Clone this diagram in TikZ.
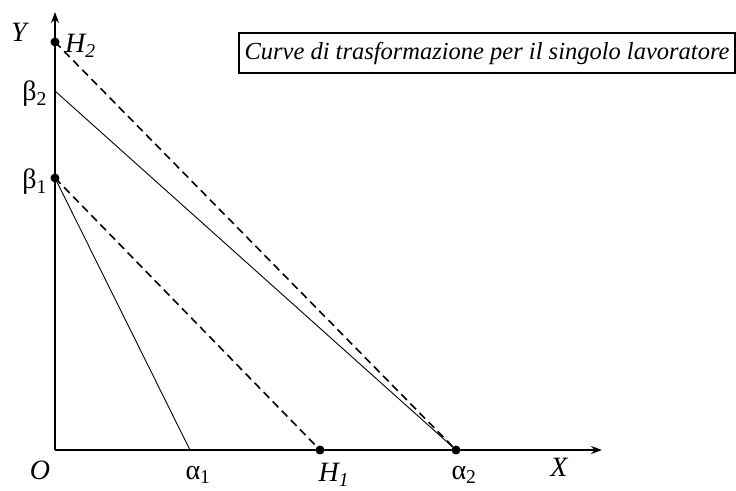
\documentclass[tikz,border=0pt]{standalone}
\usepackage{fontspec}
\setmainfont{Liberation Serif}
\usetikzlibrary{arrows.meta}
\begin{document}
\begin{tikzpicture}[x=1pt, y=-1pt, >={Stealth[length=11pt,width=8pt]},
    lab/.style={font=\fontsize{28}{32}\selectfont, inner sep=0pt},
    ilab/.style={lab, font=\fontsize{28}{32}\selectfont\itshape},
    axis/.style={line width=1.7pt},
    dot/.style={circle, fill=black, inner sep=0pt, minimum size=9pt},
    curve/.style={line width=0.9pt},
    hline/.style={line width=1.6pt, dash pattern=on 8pt off 5pt}]
  \useasboundingbox (0,0) rectangle (736,490);
  % axes
  \coordinate (O) at (55,450);
  \coordinate (Ytip) at (55,12);
  \coordinate (Xtip) at (602,450);
  \draw[axis,->] (O) -- (Ytip);
  \draw[axis,->] (O) -- (Xtip);
  % points on the axes
  \node[dot] (H2) at (55,42) {};
  \coordinate (b2) at (55,91);
  \node[dot] (b1) at (55,178) {};
  \coordinate (a1) at (190,450);
  \node[dot] (H1) at (320,450) {};
  \node[dot] (a2) at (456,450) {};
  % transformation curves
  \draw[curve] (b1.center) -- (a1);
  \draw[curve] (b2) -- (a2.center);
  \draw[hline] (b1.center) -- (H1.center);
  \draw[hline] (H2.center) -- (a2.center);
  % labels
  \node[ilab] (ylab) at (19,32) {Y};
  \node[ilab, anchor=west] (h2lab) at (65,46) {H\textsubscript{2}};
  \node[lab, anchor=east] (b2lab) at (47,94) {β\textsubscript{2}};
  \node[lab, anchor=east] (b1lab) at (47,182) {β\textsubscript{1}};
  \node[ilab] (olab) at (40,470) {O};
  \node[lab] (a1lab) at (198,475) {α\textsubscript{1}};
  \node[ilab] (h1lab) at (334,475) {H\textsubscript{1}};
  \node[lab] (a2lab) at (464,475) {α\textsubscript{2}};
  \node[ilab] (xlab) at (559,467) {X};
  % title box
  \node[draw, line width=1.2pt, minimum width=496pt, minimum height=40pt,
        font=\fontsize{24.5}{28}\selectfont\itshape] (title) at (487,53)
        {Curve di trasformazione per il singolo lavoratore};
\end{tikzpicture}
\end{document}
